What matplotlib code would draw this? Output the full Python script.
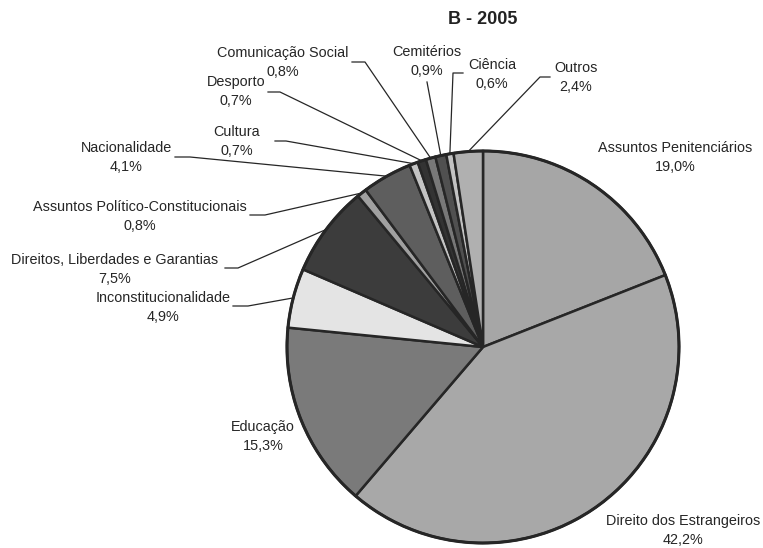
import matplotlib.pyplot as plt
import numpy as np

plt.rcParams["font.family"] = ["Liberation Sans", "DejaVu Sans"]

categories = [
    "Assuntos Penitenciários", "Direito dos Estrangeiros", "Educação",
    "Inconstitucionalidade", "Direitos, Liberdades e Garantias",
    "Assuntos Político-Constitucionais", "Nacionalidade", "Cultura",
    "Desporto", "Comunicação Social", "Cemitérios", "Ciência", "Outros",
]
shares = [19.0, 42.2, 15.3, 4.9, 7.5, 0.8, 4.1, 0.7, 0.7, 0.8, 0.9, 0.6, 2.4]
greys = [
    "#a6a6a6", "#a8a8a8", "#7a7a7a", "#e4e4e4", "#3c3c3c", "#a0a0a0",
    "#5e5e5e", "#c4c4c4", "#333333", "#787878", "#505050", "#c2c2c2",
    "#b0b0b0",
]

# label block centre (x, y of first line) in pixels; leader = (start of
# horizontal segment, elbow x) or None when the label has no leader
label_pos = [
    (675, 148), (683, 521), (263, 427), (163, 298), (115, 260),
    (140, 207), (126, 148), (237, 132), (236, 82), (283, 53),
    (427, 52), (492, 65), (576, 68),
]
leaders = [
    None, None, None,
    ((233, 306), 248), ((225, 268), 238), ((250, 215), 265),
    ((175, 157), 190), ((275, 141), 286), ((268, 92), 280),
    ((352, 62), 365), ((427, 82), 427), ((463, 73), 453),
    ((550, 77), 540),
]

W, H = 763, 548
cx, cy, r = 483, 347, 196

fig = plt.figure(figsize=(W / 100, H / 100), dpi=100)
ax = fig.add_axes([0, 0, 1, 1])

wedges, _ = ax.pie(
    shares, colors=greys, startangle=90, counterclock=False,
    center=(cx, H - cy), radius=r,
    wedgeprops=dict(edgecolor="#262626", linewidth=1.8),
)
ax.add_patch(plt.Circle((cx, H - cy), r, fill=False, edgecolor="#262626", linewidth=2.2))
ax.set_xlim(0, W)
ax.set_ylim(0, H)
ax.set_aspect("equal")
ax.axis("off")

for name, val, w, (tx, ty), lead in zip(categories, shares, wedges, label_pos, leaders):
    txt = f"{name}\n{val:.1f}%".replace(".", ",")
    ax.text(tx, H - ty - 9.5, txt, ha="center", va="center", fontsize=10.4,
            color="#262626", linespacing=1.42)
    if lead is None:
        continue
    mid = np.deg2rad((w.theta1 + w.theta2) / 2)
    ex = cx + r * np.cos(mid)
    ey = (H - cy) + r * np.sin(mid)
    (sx, sy), bx = lead
    ax.plot([sx, bx, ex], [H - sy, H - sy, ey], color="#262626", linewidth=0.9)

ax.text(cx, H - 19, "B - 2005", ha="center", va="center", fontsize=13,
        fontweight="bold", color="#222222")

fig.savefig("out.png", dpi=100)
